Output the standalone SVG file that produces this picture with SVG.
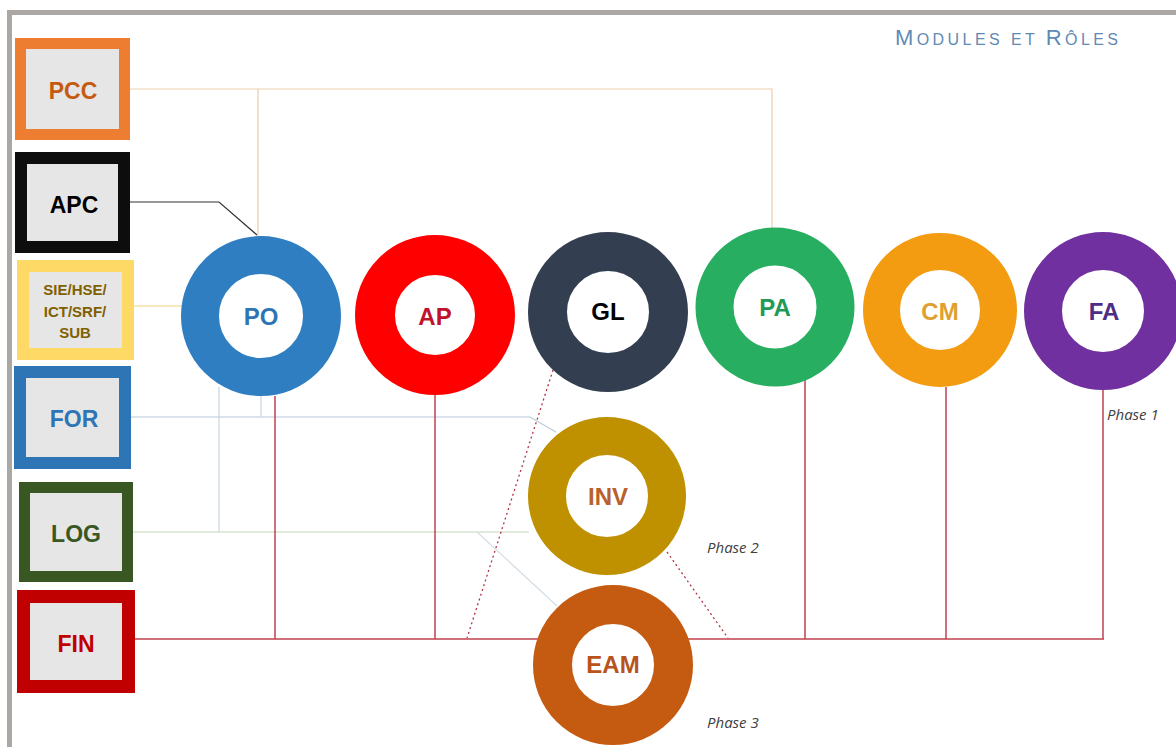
<svg xmlns="http://www.w3.org/2000/svg" width="1176" height="747" viewBox="0 0 1176 747">
  <style>
    .box { fill: #E7E6E6; }
    .lbl { font-family: "Liberation Sans", Arial, sans-serif; font-weight: bold; text-anchor: middle; }
    .ring { fill: #FFFFFF; }
    .phase { font-family: "Open Sans", "Liberation Sans", sans-serif; font-style: italic; font-size: 15px; fill: #404040; }
    .thin { fill: none; stroke-width: 1.2; }
    .fin { fill: none; stroke: #C0404F; stroke-width: 1.5; }
    .dot { fill: none; stroke: #B03545; stroke-width: 1.3; stroke-dasharray: 2 3; }
  </style>

  <rect width="1176" height="747" fill="#FFFFFF"/>
  <!-- outer frame -->
  <rect x="9.5" y="12.5" width="1200" height="760" fill="none" stroke="#ABA7A5" stroke-width="5"/>

  <!-- title -->
  <text x="895" y="45" font-family="Liberation Sans, Arial, sans-serif" fill="#5F8AB3" textLength="223" lengthAdjust="spacing"><tspan font-size="22">M</tspan><tspan font-size="16">ODULES ET </tspan><tspan font-size="22">R</tspan><tspan font-size="16">ÔLES</tspan></text>

  <!-- connectors -->
  <g id="connectors">
    <polyline class="thin" stroke="#EBCDAE" points="130,89 772,89 772,228"/>
    <line class="thin" stroke="#EBCDAE" x1="258" y1="89" x2="258" y2="236"/>
    <polyline class="thin" stroke="#333333" points="130,202 219,202 257,235"/>
    <line class="thin" stroke="#F2D37A" x1="134" y1="306" x2="182" y2="306"/>
    <polyline class="thin" stroke="#B8CADB" points="131,417 530,417 556,432"/>
    <line class="thin" stroke="#C9D5E1" x1="261" y1="396" x2="261" y2="417"/>
    <line class="thin" stroke="#C9D5E1" x1="219" y1="387" x2="219" y2="532"/>
    <line class="thin" stroke="#C6D6B8" x1="133" y1="532" x2="529" y2="532"/>
    <line class="thin" stroke="#D3DDE6" x1="477" y1="532" x2="557" y2="606"/>
    <line class="fin" x1="135" y1="639" x2="1104" y2="639"/>
    <line class="fin" x1="275" y1="396" x2="275" y2="639"/>
    <line class="fin" x1="435" y1="395" x2="435" y2="639"/>
    <line class="fin" x1="805" y1="380" x2="805" y2="639"/>
    <line class="fin" x1="946" y1="387" x2="946" y2="639"/>
    <line class="fin" x1="1103" y1="390" x2="1103" y2="639"/>
    <line class="dot" x1="553" y1="370" x2="467" y2="638"/>
    <line class="dot" x1="667" y1="552" x2="728" y2="638"/>
  </g>

  <!-- left module boxes -->
  <g id="PCC">
    <rect class="box" x="20.5" y="43.5" width="104" height="91" stroke="#ED7D31" stroke-width="11"/>
    <text class="lbl" x="73" y="99" font-size="23" fill="#C55A11">PCC</text>
  </g>
  <g id="APC">
    <rect class="box" x="21" y="158" width="103" height="89" stroke="#0D0D0D" stroke-width="12"/>
    <text class="lbl" x="74" y="213" font-size="23" fill="#000000">APC</text>
  </g>
  <g id="SIE">
    <rect class="box" x="23" y="266" width="105" height="88" stroke="#FFD966" stroke-width="12"/>
    <text class="lbl" font-size="15" fill="#7F6000"><tspan x="75" y="295">SIE/HSE/</tspan><tspan x="75" y="317">ICT/SRF/</tspan><tspan x="75" y="338">SUB</tspan></text>
  </g>
  <g id="FOR">
    <rect class="box" x="20" y="372" width="105" height="91" stroke="#2E75B6" stroke-width="12"/>
    <text class="lbl" x="74" y="427" font-size="23" fill="#2E75B6">FOR</text>
  </g>
  <g id="LOG">
    <rect class="box" x="24.5" y="487.5" width="103" height="89" stroke="#385723" stroke-width="11"/>
    <text class="lbl" x="76" y="542" font-size="23" fill="#385723">LOG</text>
  </g>
  <g id="FIN">
    <rect class="box" x="23.5" y="596.5" width="105" height="90" stroke="#C00000" stroke-width="13"/>
    <text class="lbl" x="76" y="652" font-size="23" fill="#C00000">FIN</text>
  </g>

  <!-- module rings -->
  <g id="PO">
    <circle class="ring" cx="261" cy="316" r="61" stroke="#2E7EC1" stroke-width="38"/>
    <text class="lbl" x="261" y="325" font-size="24" fill="#2E75B6">PO</text>
  </g>
  <g id="AP">
    <circle class="ring" cx="435" cy="315" r="60" stroke="#FF0000" stroke-width="40"/>
    <text class="lbl" x="435" y="325" font-size="24" fill="#C0122A">AP</text>
  </g>
  <g id="GL">
    <circle class="ring" cx="608" cy="312" r="60.5" stroke="#333F50" stroke-width="39"/>
    <text class="lbl" x="608" y="320" font-size="24" fill="#000000">GL</text>
  </g>
  <g id="PA">
    <circle class="ring" cx="775" cy="307" r="60.5" stroke="#27AE60" stroke-width="38"/>
    <text class="lbl" x="775" y="316" font-size="24" fill="#229A55">PA</text>
  </g>
  <g id="CM">
    <circle class="ring" cx="940" cy="310" r="58.5" stroke="#F39C12" stroke-width="37"/>
    <text class="lbl" x="940" y="320" font-size="24" fill="#E0A030">CM</text>
  </g>
  <g id="FA">
    <circle class="ring" cx="1103" cy="311" r="60" stroke="#7030A0" stroke-width="38"/>
    <text class="lbl" x="1104" y="320" font-size="24" fill="#4F2C85">FA</text>
  </g>
  <g id="INV">
    <circle class="ring" cx="607" cy="496" r="60" stroke="#BF9000" stroke-width="38"/>
    <text class="lbl" x="608" y="505" font-size="24" fill="#B8612D">INV</text>
  </g>
  <g id="EAM">
    <circle class="ring" cx="613" cy="665" r="60.5" stroke="#C55A11" stroke-width="39"/>
    <text class="lbl" x="613" y="673" font-size="24" fill="#B9531A">EAM</text>
  </g>

  <!-- phase labels -->
  <text class="phase" x="1107" y="420">Phase 1</text>
  <text class="phase" x="707" y="553">Phase 2</text>
  <text class="phase" x="707" y="728">Phase 3</text>
</svg>
